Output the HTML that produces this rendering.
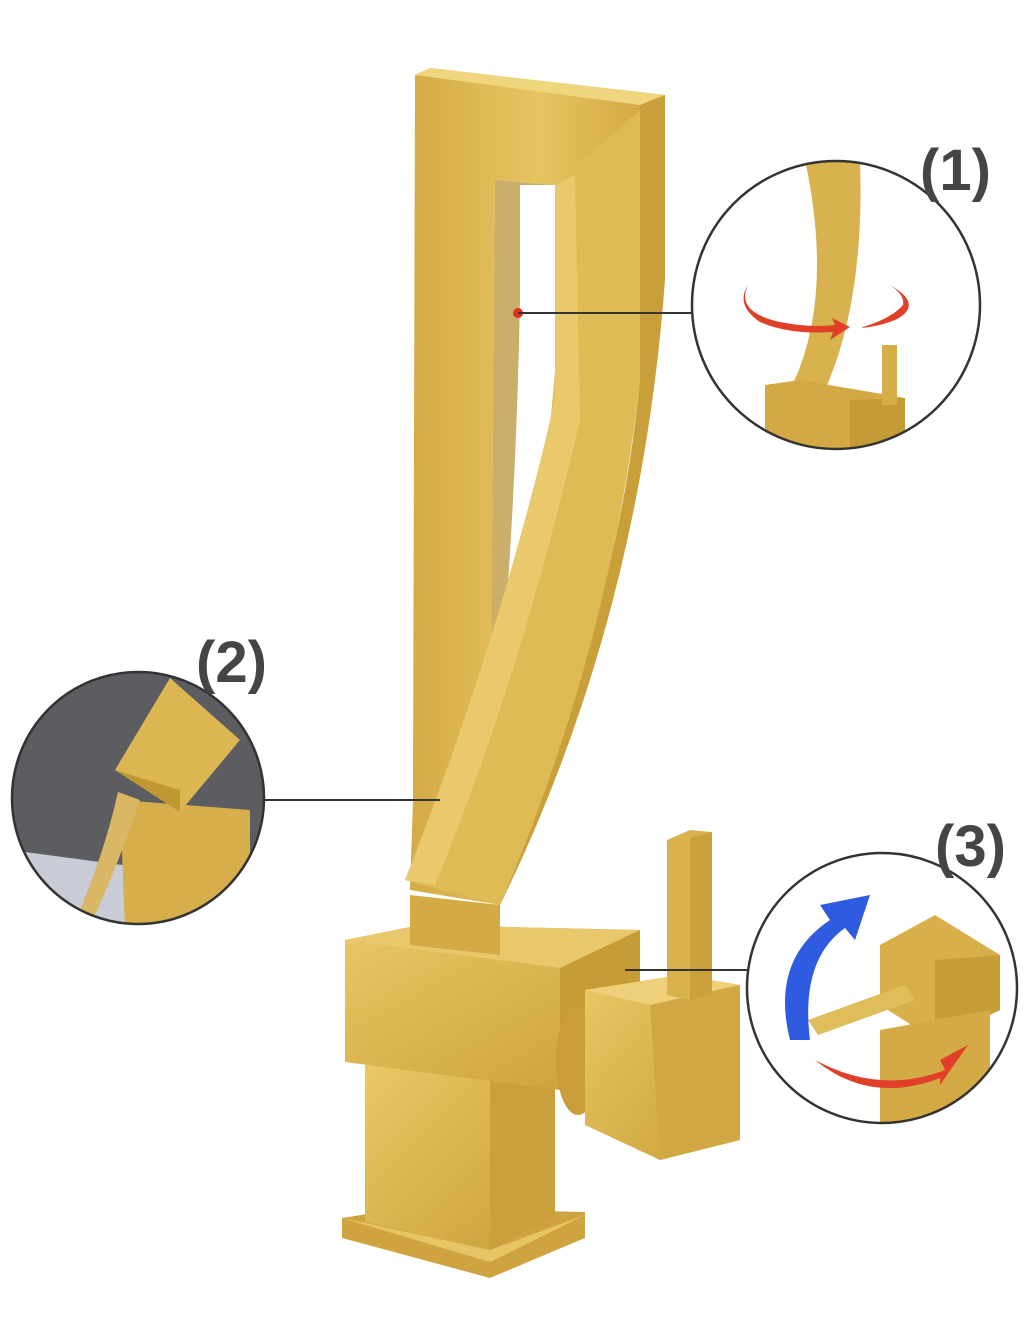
<!DOCTYPE html>
<html><head><meta charset="utf-8"><style>
html,body{margin:0;padding:0;background:#fff;}
svg{display:block;}
text{font-family:"Liberation Sans",sans-serif;font-weight:bold;fill:#454545;}
</style></head><body>
<svg width="1024" height="1318" viewBox="0 0 1024 1318" xmlns="http://www.w3.org/2000/svg">
<defs>
<linearGradient id="g1" x1="0" y1="0" x2="1" y2="0">
<stop offset="0" stop-color="#d4ab45"/><stop offset="0.5" stop-color="#e6c462"/><stop offset="1" stop-color="#cfa43c"/>
</linearGradient>
<linearGradient id="g2" x1="0" y1="0" x2="1" y2="1">
<stop offset="0" stop-color="#e9c866"/><stop offset="1" stop-color="#c99f38"/>
</linearGradient>
<clipPath id="c1"><circle cx="836" cy="305" r="144"/></clipPath>
<clipPath id="c2"><circle cx="138" cy="798" r="126"/></clipPath>
<clipPath id="c3"><circle cx="882" cy="988" r="135"/></clipPath>
</defs>
<rect width="1024" height="1318" fill="#fff"/>

<!-- foot plate -->
<path d="M342 1218 L405 1208 L585 1212 L585 1238 L490 1278 L342 1238 Z" fill="#cfa440"/>
<path d="M342 1218 L490 1250 L585 1215 L490 1262 Z" fill="#e6c566"/>
<!-- lower column -->
<path d="M365 1065 L555 1070 L555 1215 L490 1250 L365 1222 Z" fill="url(#g2)"/>
<path d="M490 1080 L555 1070 L555 1215 L490 1250 Z" fill="#c9a03c"/>
<!-- base block -->
<path d="M345 940 L420 925 L640 930 L640 1010 L560 1090 L345 1062 Z" fill="url(#g2)"/>
<path d="M345 940 L420 925 L640 930 L560 968 Z" fill="#e8c86a"/>
<path d="M560 968 L640 930 L640 1010 L560 1090 Z" fill="#c69c36"/>
<!-- handle cylinder -->
<ellipse cx="578" cy="1060" rx="22" ry="55" fill="#c99e3a"/>
<!-- handle cube -->
<path d="M585 990 L680 975 L740 985 L740 1140 L660 1160 L585 1125 Z" fill="url(#g2)"/>
<path d="M585 990 L680 975 L740 985 L650 1005 Z" fill="#edd079"/>
<path d="M650 1005 L740 985 L740 1140 L660 1160 Z" fill="#d1a843"/>
<!-- lever -->
<path d="M667 840 L690 830 L712 832 L712 995 L690 1000 L667 995 Z" fill="#d9b24c"/>
<path d="M690 838 L712 832 L712 995 L690 1000 Z" fill="#c9a03c"/>
<!-- small block under spout -->
<path d="M410 895 L500 905 L500 955 L410 945 Z" fill="#d3aa44"/>
<!-- tall panel -->
<path d="M415 75 L430 68 L665 95 L665 110 L640 110 L640 380 Q610 650 500 905 L410 890 L413 800 Z" fill="url(#g1)"/>
<path d="M415 75 L430 68 L665 95 L640 105 Z" fill="#f0d57f"/>
<path d="M640 105 L665 95 L665 280 Q640 620 500 905 L490 900 Q615 640 640 380 Z" fill="#c99f3a"/>
<!-- slot -->
<path d="M495 180 L555 185 L555 370 Q540 560 490 790 Z" fill="#ffffff"/>
<path d="M495 180 L555 185 L520 185 L520 300 Q515 560 490 790 Z" fill="#b58b2a" opacity="0.7"/>
<!-- curved spout face -->
<path d="M555 185 L640 110 L640 380 Q610 650 500 905 L405 880 Q500 640 555 400 Z" fill="#dfbb56"/>
<path d="M555 185 L575 175 L580 420 Q520 680 435 885 L405 880 Q500 640 555 400 Z" fill="#e9c96c"/>
<!-- connectors -->
<circle cx="518" cy="313" r="5" fill="#e03020"/>
<line x1="518" y1="313" x2="692" y2="313" stroke="#333" stroke-width="2"/>
<line x1="262" y1="800" x2="440" y2="800" stroke="#333" stroke-width="2"/>
<line x1="625" y1="970" x2="748" y2="970" stroke="#333" stroke-width="2"/>

<!-- circle 1 -->
<g clip-path="url(#c1)">
<rect x="690" y="160" width="300" height="300" fill="#fff"/>
<path d="M805 160 L860 160 Q865 300 825 390 L790 390 Q835 300 805 160 Z" fill="#d8b24e"/>
<path d="M765 385 L800 380 L905 398 L905 460 L765 460 Z" fill="#d3a945"/>
<path d="M850 400 L905 398 L905 460 L850 460 Z" fill="#c49b35"/>
<rect x="882" y="345" width="15" height="60" fill="#d6ae48"/>
<path d="M740 300 Q780 275 840 300" stroke="none" fill="none"/>
<path d="M748 285 Q735 312 780 322 Q810 328 835 325 L832 318 L850 327 L830 340 L833 332 Q790 335 760 322 Q735 305 748 285 Z" fill="#e04028"/>
<path d="M890 285 Q925 305 895 320 Q880 326 862 328 L870 320 L863 327 Q892 318 903 305 Q905 295 890 285 Z" fill="#e04028"/>
</g>
<circle cx="836" cy="305" r="144" fill="none" stroke="#333" stroke-width="2.5"/>

<!-- circle 2 -->
<g clip-path="url(#c2)">
<rect x="10" y="670" width="260" height="260" fill="#5c5d60"/>
<path d="M10 850 L160 870 L160 930 L10 930 Z" fill="#c9ccd6"/>
<path d="M120 800 L250 810 L250 930 L125 930 Z" fill="#d6ae4c"/>
<path d="M115 770 L170 678 L240 740 L180 812 Z" fill="#dbb652"/>
<path d="M115 770 L180 812 L180 790 Z" fill="#c09833"/>
<path d="M118 792 L140 800 Q120 860 95 915 L80 910 Q105 850 118 792 Z" fill="#d9b765"/>
</g>
<circle cx="138" cy="798" r="126" fill="none" stroke="#333" stroke-width="2.5"/>

<!-- circle 3 -->
<g clip-path="url(#c3)">
<rect x="745" y="850" width="275" height="275" fill="#fff"/>
<path d="M880 945 L935 915 L1000 955 L1000 1010 L935 1040 L880 1005 Z" fill="#d8b04a"/>
<path d="M935 960 L1000 955 L1000 1010 L935 1040 Z" fill="#c79d37"/>
<path d="M880 1030 L990 1010 L990 1130 L880 1130 Z" fill="#d3aa44"/>
<path d="M808 1020 L905 985 L915 1000 L818 1035 Z" fill="#e0bd5b"/>
<path d="M790 1040 Q770 960 830 920 L820 905 L870 895 L855 940 L845 928 Q800 960 810 1040 Z" fill="#2f5be0"/>
<path d="M815 1060 Q880 1095 945 1070 L940 1060 L968 1045 L940 1085 L940 1078 Q870 1105 815 1060 Z" fill="#e0402a"/>
</g>
<circle cx="882" cy="988" r="135" fill="none" stroke="#333" stroke-width="2.5"/>

<text x="920" y="190" font-size="58">(1)</text>
<text x="196" y="682" font-size="58">(2)</text>
<text x="935" y="866" font-size="58">(3)</text>
</svg>
</body></html>
